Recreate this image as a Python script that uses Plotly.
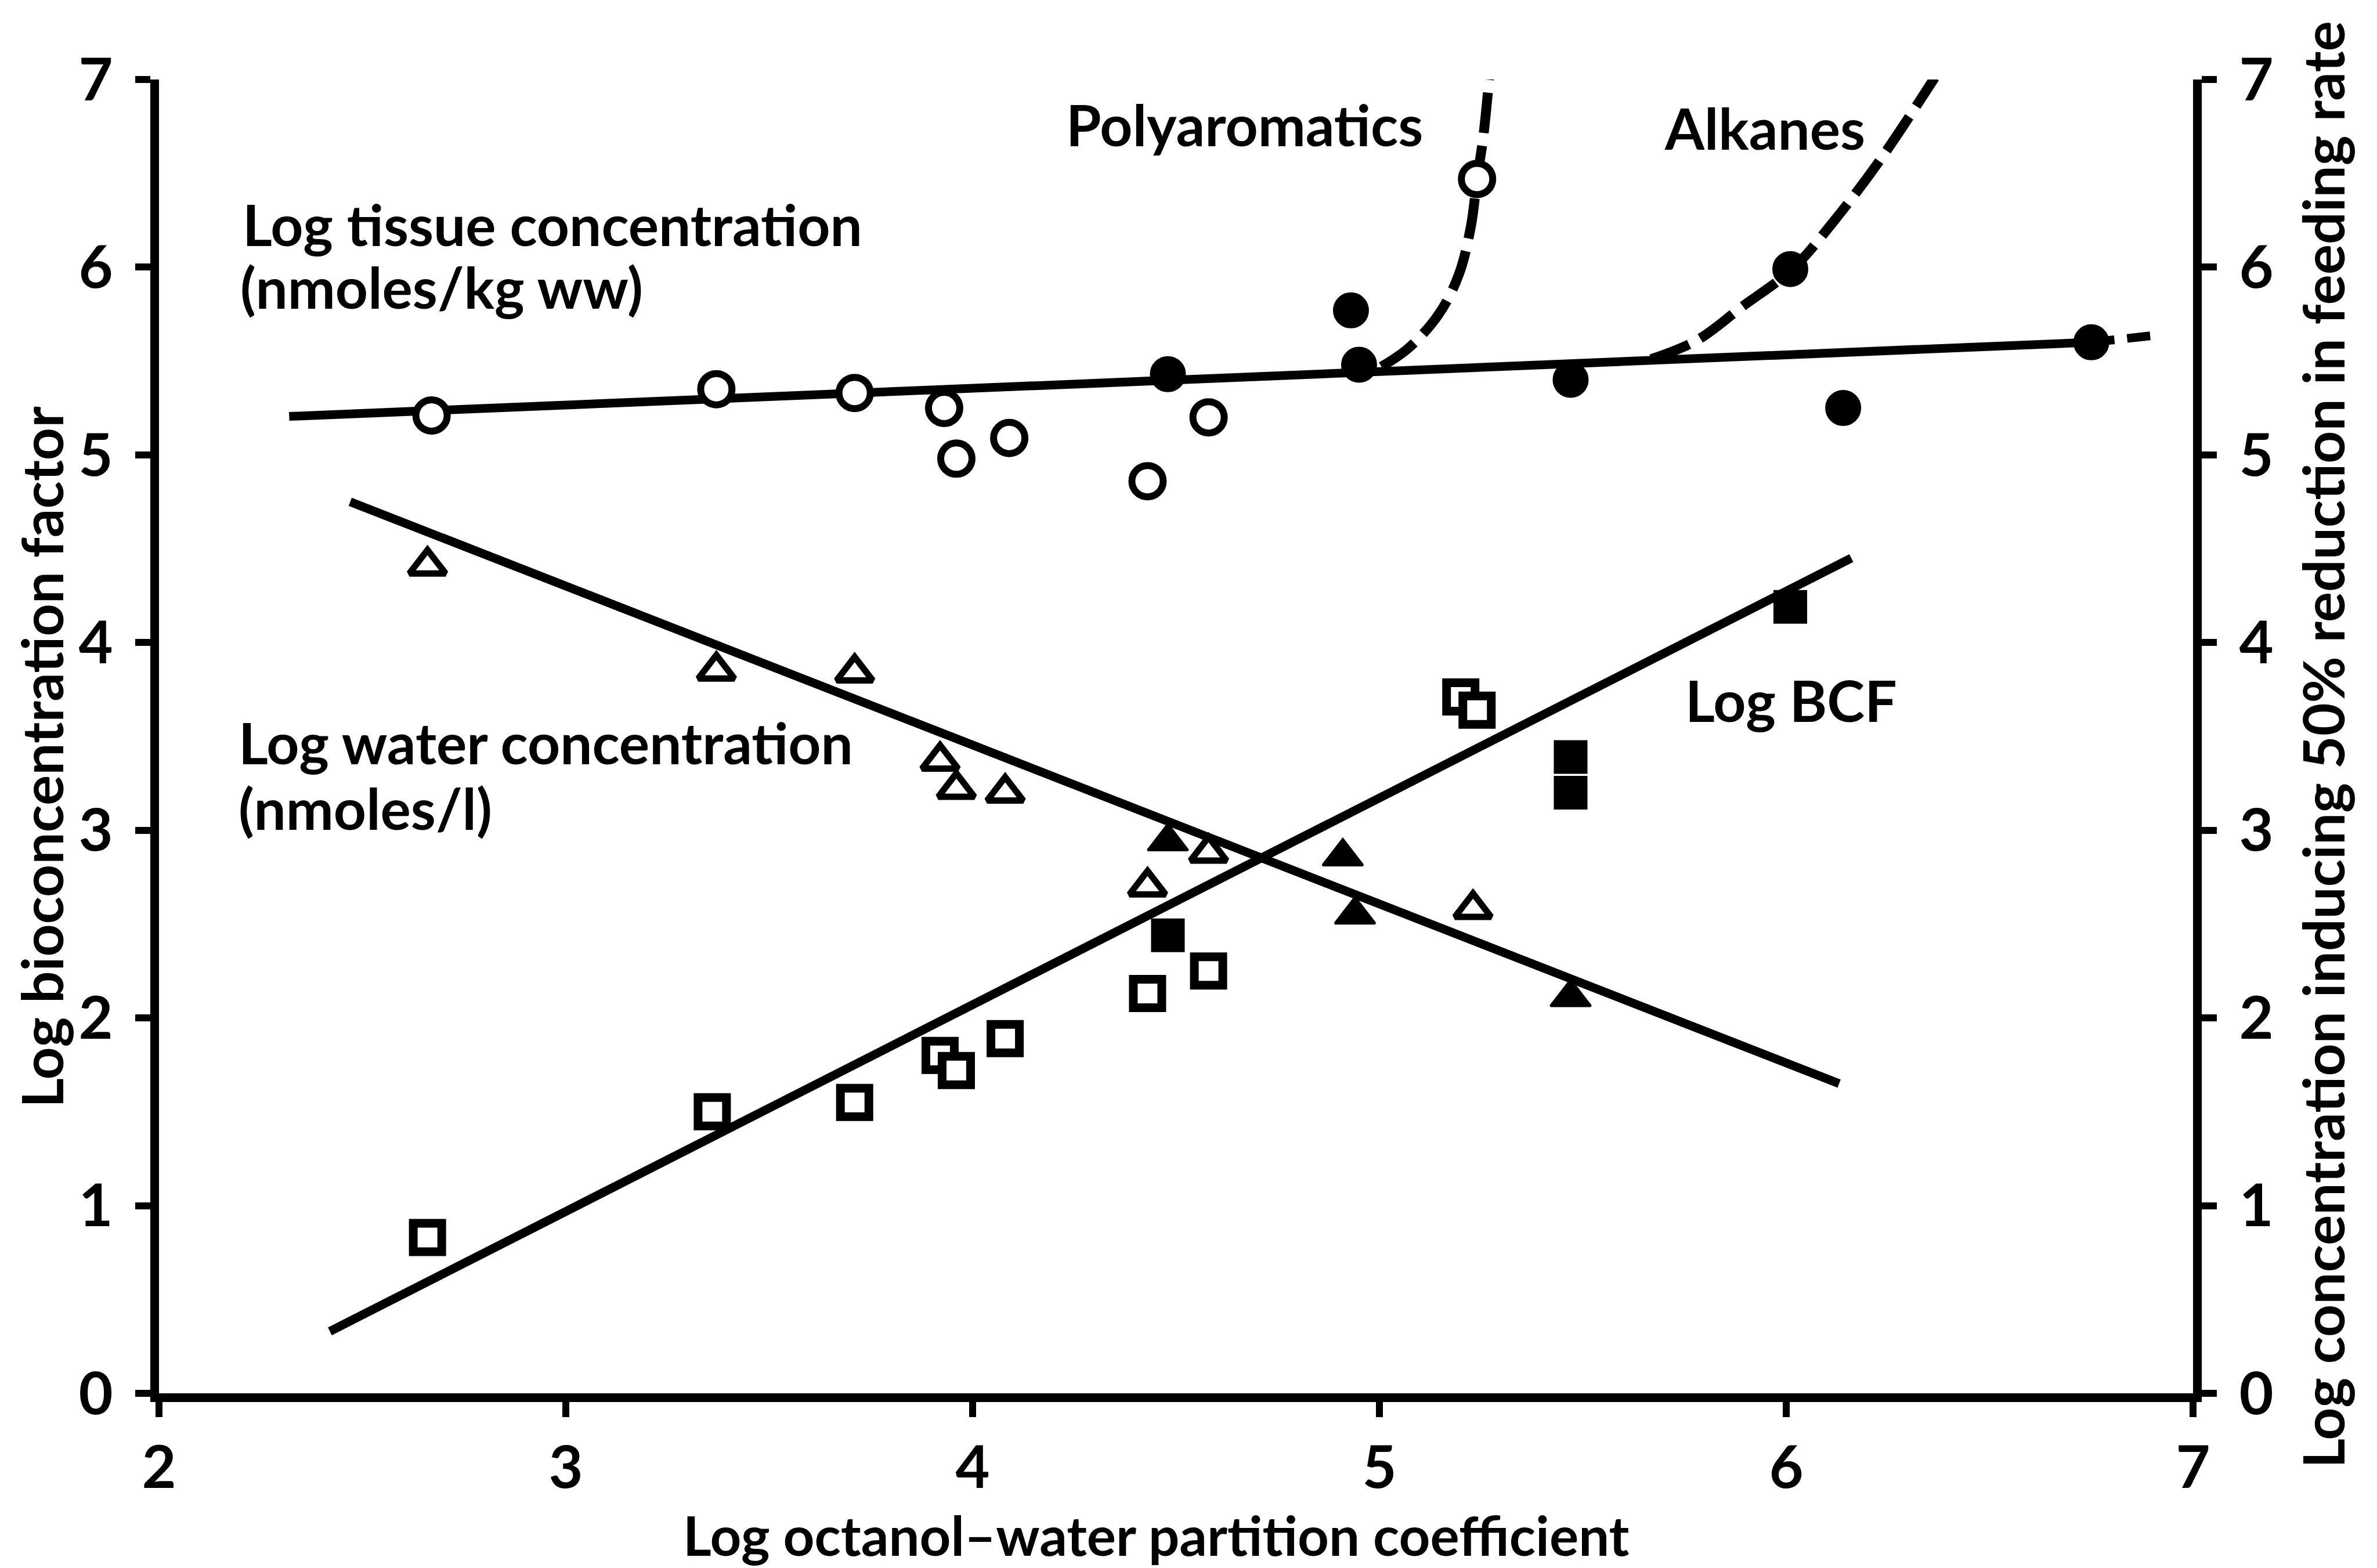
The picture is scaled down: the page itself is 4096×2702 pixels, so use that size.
import plotly.graph_objects as go

# ---------------- data ----------------
# Log tissue concentration – polyaromatics (open circles) and alkanes (filled circles)
pah_tissue_x = [2.67, 3.37, 3.71, 3.93, 3.96, 4.09, 4.43, 4.58, 5.24]
pah_tissue_y = [5.21, 5.35, 5.33, 5.25, 4.98, 5.09, 4.86, 5.20, 6.47]
alk_tissue_x = [4.48, 4.93, 4.95, 5.47, 6.01, 6.14, 6.75]
alk_tissue_y = [5.43, 5.77, 5.48, 5.40, 5.99, 5.25, 5.60]

# Log water concentration – polyaromatics (open triangles) and alkanes (filled triangles)
pah_water_x = [2.66, 3.37, 3.71, 3.92, 3.96, 4.08, 4.43, 4.58, 5.23]
pah_water_y = [4.41, 3.85, 3.84, 3.37, 3.22, 3.20, 2.70, 2.88, 2.58]
alk_water_x = [4.48, 4.91, 4.94, 5.47]
alk_water_y = [2.94, 2.86, 2.55, 2.11]

# Log BCF – polyaromatics (open squares) and alkanes (filled squares)
pah_bcf_x = [2.66, 3.36, 3.71, 3.92, 3.96, 4.08, 4.43, 4.58, 5.20, 5.24]
pah_bcf_y = [0.83, 1.50, 1.55, 1.80, 1.72, 1.89, 2.13, 2.25, 3.71, 3.64]
alk_bcf_x = [4.48, 5.47, 5.47, 6.01]
alk_bcf_y = [2.44, 3.39, 3.20, 4.19]

# fitted lines (end points)
tissue_fit_x = [2.32, 6.75]
tissue_fit_y = [5.205, 5.60]
tissue_ext_x = [6.75, 6.92]
tissue_ext_y = [5.60, 5.64]
water_fit_x = [2.47, 6.13]
water_fit_y = [4.75, 1.65]
bcf_fit_x = [2.42, 6.16]
bcf_fit_y = [0.33, 4.45]

# dashed toxicity curves
pah_curve_x = [5.005, 5.072, 5.146, 5.195, 5.225, 5.240, 5.255, 5.270]
pah_curve_y = [5.47, 5.57, 5.75, 5.96, 6.22, 6.47, 6.69, 7.01]
alk_curve_x = [5.668, 5.78, 5.892, 6.015, 6.115, 6.227, 6.365]
alk_curve_y = [5.51, 5.61, 5.79, 5.99, 6.24, 6.56, 7.01]

x_ticks = [2, 3, 4, 5, 6, 7]
y_ticks = [0, 1, 2, 3, 4, 5, 6, 7]

# ---------------- layout geometry (output pixels) ----------------
W, H = 4096, 2702
L, R, T, B = 274.4, 3779.2, 136.8, 2400.6

def px(xo):
    return (xo - L) / (R - L)

def py(yo):
    return (B - yo) / (B - T)

FONT = "Lato"
TXT = 98
TICK = 102
LW = 15

fig = go.Figure()

line_style = dict(color="black", width=LW)
dash_style = dict(color="black", width=17, dash="70px,22px", shape="spline")

fig.add_trace(go.Scatter(x=tissue_fit_x, y=tissue_fit_y, mode="lines", line=line_style))
fig.add_trace(go.Scatter(x=tissue_ext_x, y=tissue_ext_y, mode="lines",
                         line=dict(color="black", width=LW, dash="40px,22px")))
fig.add_trace(go.Scatter(x=water_fit_x, y=water_fit_y, mode="lines", line=line_style))
fig.add_trace(go.Scatter(x=bcf_fit_x, y=bcf_fit_y, mode="lines", line=line_style))
fig.add_trace(go.Scatter(x=pah_curve_x, y=pah_curve_y, mode="lines", line=dash_style))
fig.add_trace(go.Scatter(x=alk_curve_x, y=alk_curve_y, mode="lines", line=dash_style))

# markers
fig.add_trace(go.Scatter(x=pah_tissue_x, y=pah_tissue_y, mode="markers",
                         marker=dict(symbol="circle", size=54, color="white",
                                     line=dict(color="black", width=12))))
fig.add_trace(go.Scatter(x=alk_tissue_x, y=alk_tissue_y, mode="markers",
                         marker=dict(symbol="circle", size=60, color="black",
                                     line=dict(color="black", width=2))))
fig.add_trace(go.Scatter(x=pah_water_x, y=pah_water_y, mode="markers",
                         marker=dict(symbol="triangle-up", size=54, color="white",
                                     line=dict(color="black", width=11))))
fig.add_trace(go.Scatter(x=alk_water_x, y=alk_water_y, mode="markers",
                         marker=dict(symbol="triangle-up", size=60, color="black",
                                     line=dict(color="black", width=4))))
fig.add_trace(go.Scatter(x=pah_bcf_x, y=pah_bcf_y, mode="markers",
                         marker=dict(symbol="square", size=49, color="white",
                                     line=dict(color="black", width=15))))
fig.add_trace(go.Scatter(x=alk_bcf_x, y=alk_bcf_y, mode="markers",
                         marker=dict(symbol="square", size=56, color="black",
                                     line=dict(color="black", width=2))))

# invisible trace so that the right-hand axis is drawn
fig.add_trace(go.Scatter(x=[2], y=[0], yaxis="y2", mode="markers",
                         marker=dict(opacity=0), hoverinfo="skip"))

axis_common = dict(
    showline=True, linecolor="black", linewidth=LW, mirror=False,
    ticks="outside", ticklen=26, tickwidth=12, tickcolor="black",
    showgrid=False, zeroline=False,
    tickfont=dict(family=FONT, size=TICK, color="black", weight=700),
)

fig.update_layout(
    width=W, height=H,
    margin=dict(l=L, r=W - R, t=T, b=H - B, pad=0),
    paper_bgcolor="white", plot_bgcolor="white",
    showlegend=False,
    font=dict(family=FONT, color="black", weight=700),
    xaxis=dict(range=[2, 7], tickvals=x_ticks, ticklabelstandoff=0, **axis_common),
    yaxis=dict(range=[0, 7], tickvals=y_ticks, ticklabelstandoff=18, **axis_common),
    yaxis2=dict(range=[0, 7], tickvals=y_ticks, overlaying="y", side="right",
                anchor="x", ticklabelstandoff=18, **axis_common),
)

def note(text, x, y, xanchor="left", angle=0, size=TXT):
    fig.add_annotation(text=text, x=px(x), y=py(y), xref="paper", yref="paper",
                       xanchor=xanchor, yanchor="middle", showarrow=False,
                       textangle=angle,
                       font=dict(family=FONT, size=size, color="black", weight=700))

note("Polyaromatics", 1835, 214)
note("Alkanes", 2866, 220)
note("Log tissue concentration", 416, 386)
note("(nmoles/kg ww)", 412, 494)
note("Log water concentration", 409, 1279)
note("(nmoles/l)", 409, 1392)
note("Log BCF", 2902, 1206)

note("Log octanol\u2013water partition coefficient", 1993, 2644, xanchor="center", size=94)
note("Log bioconcentration factor", 72, 1304, xanchor="center", angle=-90)
note("Log concentration inducing 50% reduction in feeding rate", 4002, 1283,
     xanchor="center", angle=-90)

fig.write_html("out.html")
